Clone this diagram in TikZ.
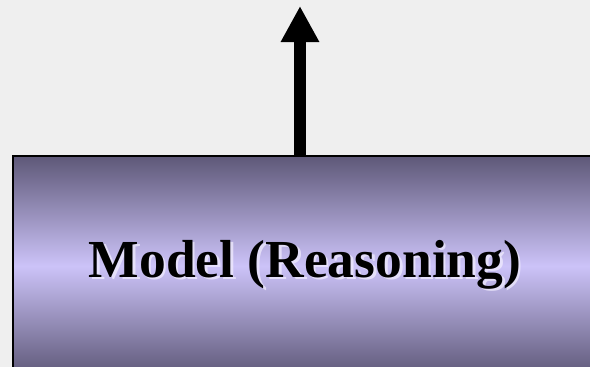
\documentclass[tikz,border=0pt]{standalone}
\usepackage{fontspec}
\setmainfont{Liberation Serif}
\usetikzlibrary{arrows.meta}
\definecolor{bgpaper}{HTML}{EFEFEF}
\definecolor{boxdark}{HTML}{5E5878}
\definecolor{boxlight}{HTML}{CCC3F8}
\definecolor{glow}{HTML}{F4F0FF}
\tikzset{
  modelbox/.style={draw=black, line width=1.4pt, top color=boxdark, bottom color=boxdark, middle color=boxlight, shading angle=0},
  bigarrow/.style={line width=12pt, -{Triangle[width=36pt,length=36pt]}},
  labeltext/.style={font=\fontsize{53.5}{53.5}\selectfont\bfseries, inner sep=0pt, anchor=base}
}
\begin{document}
\begin{tikzpicture}[x=1pt,y=-1pt]
\useasboundingbox (0,0) rectangle (590,367);
\fill[bgpaper] (0,0) rectangle (590,367);
\begin{scope}
\clip (0,0) rectangle (590,367);
\path[modelbox] (13,156) rectangle (610,376);
\node[labeltext, text=glow, opacity=0.7] (glowtext) at (307.5,279.5) {Model (Reasoning)};
\node[labeltext, text=black] (label) at (305,277) {Model (Reasoning)};
\coordinate (boxtop) at (300,156);
\coordinate (tip) at (300,6);
\draw[bigarrow] (boxtop) -- (tip);
\end{scope}
\end{tikzpicture}
\end{document}
